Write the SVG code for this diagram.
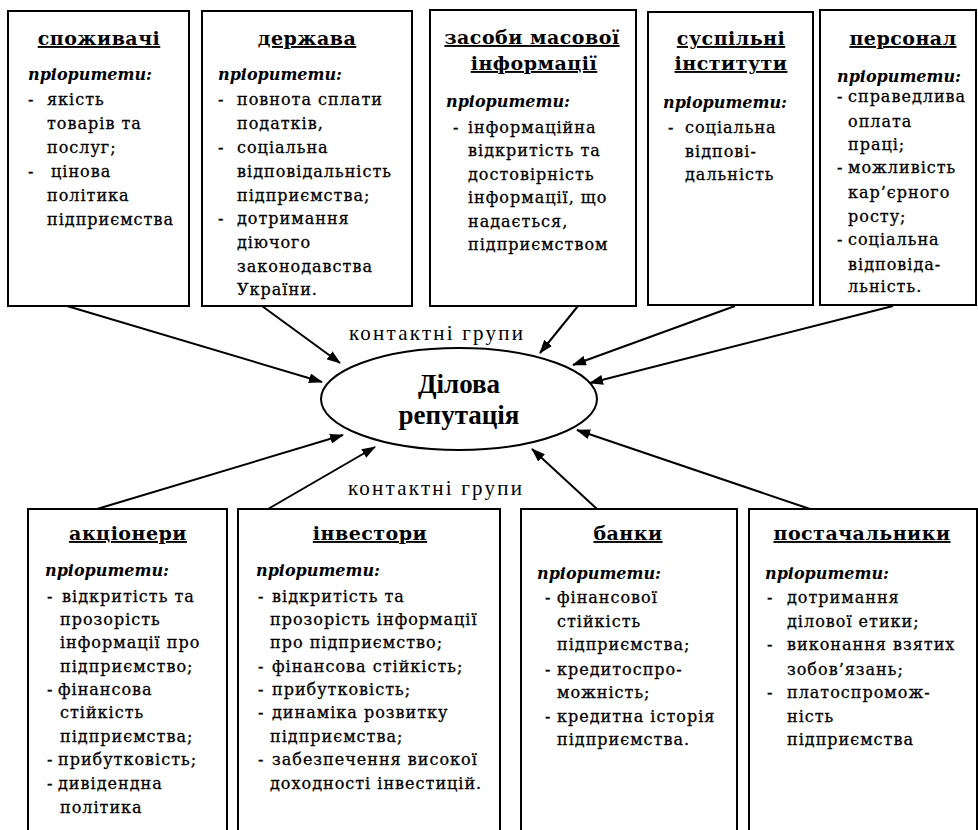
<svg xmlns="http://www.w3.org/2000/svg" width="978" height="830" viewBox="0 0 978 830">
<defs>
<style>
.box{fill:#fff;stroke:#000;stroke-width:2}
.t{font-family:"DejaVu Serif","Liberation Serif",serif;font-weight:bold;font-size:19px;letter-spacing:0.5px;text-anchor:middle;text-decoration:underline}
.p{font-family:"DejaVu Serif","Liberation Serif",serif;font-weight:bold;font-style:italic;font-size:16px}
.b{font-family:"DejaVu Serif","Liberation Serif",serif;font-size:16px;letter-spacing:1px;stroke:#000;stroke-width:0.3}
.k{font-family:"Liberation Serif","Times New Roman",serif;font-size:21px}
.e{font-family:"Liberation Serif","Times New Roman",serif;font-weight:bold;font-size:27px;text-anchor:middle}
.c line{stroke:#000;stroke-width:2;marker-end:url(#ah)}
</style>
<marker id="ah" markerUnits="userSpaceOnUse" markerWidth="14" markerHeight="10" refX="13" refY="5" orient="auto">
<path d="M0,0 L14,5 L0,10 z" fill="#000"/>
</marker>
</defs>
<rect width="978" height="830" fill="#fff"/>

<g id="connectors" class="c">
<line x1="67" y1="306" x2="322" y2="382"/>
<line x1="262" y1="306" x2="340" y2="363"/>
<line x1="578" y1="306" x2="540" y2="353"/>
<line x1="735" y1="306" x2="573" y2="365"/>
<line x1="893" y1="306" x2="590" y2="383"/>
<line x1="97" y1="509" x2="343" y2="435"/>
<line x1="268" y1="509" x2="375" y2="447"/>
<line x1="597" y1="509" x2="532" y2="449"/>
<line x1="810" y1="509" x2="577" y2="430"/>
</g>

<g id="labels">
<text class="k" x="349" y="340" textLength="174" lengthAdjust="spacing">контактні групи</text>
<text class="k" x="348" y="495" textLength="174" lengthAdjust="spacing">контактні групи</text>
</g>

<g id="center">
<ellipse cx="459" cy="399" rx="138" ry="51" fill="#fff" stroke="#000" stroke-width="2"/>
<text class="e" x="459" y="393">Ділова</text>
<text class="e" x="459" y="424">репутація</text>
</g>

<g id="spozhyvachi">
<rect class="box" x="8" y="11" width="181" height="295"/>
<text class="t" x="99" y="45">споживачі</text>
<text class="p" x="28" y="80">пріоритети:</text>
<text class="b" x="28" y="105">-</text><text class="b" x="47" y="105">якість</text>
<text class="b" x="47" y="129">товарів  та</text>
<text class="b" x="47" y="153">послуг;</text>
<text class="b" x="28" y="177">-</text><text class="b" x="51" y="177">цінова</text>
<text class="b" x="47" y="201">політика</text>
<text class="b" x="47" y="225">підприємства</text>
</g>

<g id="derzhava">
<rect class="box" x="202" y="11" width="210" height="295"/>
<text class="t" x="307" y="45">держава</text>
<text class="p" x="218" y="80">пріоритети:</text>
<text class="b" x="218" y="105">-</text><text class="b" x="237" y="105">повнота сплати</text>
<text class="b" x="237" y="129">податків,</text>
<text class="b" x="218" y="153">-</text><text class="b" x="237" y="153">соціальна</text>
<text class="b" x="237" y="177">відповідальність</text>
<text class="b" x="237" y="201">підприємства;</text>
<text class="b" x="218" y="224">-</text><text class="b" x="237" y="224">дотримання</text>
<text class="b" x="237" y="248">діючого</text>
<text class="b" x="237" y="272">законодавства</text>
<text class="b" x="237" y="295">України.</text>
</g>

<g id="zmi">
<rect class="box" x="430" y="10" width="206" height="296"/>
<text class="t" x="532" y="44">засоби масової</text>
<text class="t" x="534" y="70">інформації</text>
<text class="p" x="446" y="107">пріоритети:</text>
<text class="b" x="453" y="133">-</text><text class="b" x="468" y="133">інформаційна</text>
<text class="b" x="468" y="156">відкритість  та</text>
<text class="b" x="468" y="180">достовірність</text>
<text class="b" x="468" y="203">інформації, що</text>
<text class="b" x="468" y="227">надається,</text>
<text class="b" x="468" y="250">підприємством</text>
</g>

<g id="suspilni">
<rect class="box" x="648" y="12" width="165" height="293"/>
<text class="t" x="731" y="45">суспільні</text>
<text class="t" x="731" y="70">інститути</text>
<text class="p" x="663" y="108">пріоритети:</text>
<text class="b" x="668" y="133">-</text><text class="b" x="685" y="133">соціальна</text>
<text class="b" x="685" y="157">відпові-</text>
<text class="b" x="685" y="180">дальність</text>
</g>

<g id="personal">
<rect class="box" x="820" y="10" width="156" height="295"/>
<text class="t" x="903" y="45">персонал</text>
<text class="p" x="837" y="82">пріоритети:</text>
<text class="b" x="837" y="102">-</text><text class="b" x="848" y="102">справедлива</text>
<text class="b" x="848" y="127">оплата</text>
<text class="b" x="848" y="150">праці;</text>
<text class="b" x="837" y="173">-</text><text class="b" x="848" y="173">можливість</text>
<text class="b" x="848" y="198">кар’єрного</text>
<text class="b" x="848" y="222">росту;</text>
<text class="b" x="837" y="245">-</text><text class="b" x="848" y="245">соціальна</text>
<text class="b" x="848" y="270">відповіда-</text>
<text class="b" x="848" y="292">льність.</text>
</g>

<g id="aktsionery">
<rect class="box" x="28" y="509" width="199" height="330"/>
<text class="t" x="128" y="540">акціонери</text>
<text class="p" x="45" y="576">пріоритети:</text>
<text class="b" x="47" y="602">-</text><text class="b" x="62" y="602">відкритість  та</text>
<text class="b" x="60" y="625">прозорість</text>
<text class="b" x="60" y="648">інформації про</text>
<text class="b" x="60" y="672">підприємство;</text>
<text class="b" x="47" y="695">-</text><text class="b" x="58" y="695">фінансова</text>
<text class="b" x="60" y="718">стійкість</text>
<text class="b" x="60" y="742">підприємства;</text>
<text class="b" x="47" y="765">-</text><text class="b" x="58" y="765">прибутковість;</text>
<text class="b" x="47" y="789">-</text><text class="b" x="58" y="789">дивідендна</text>
<text class="b" x="60" y="813">політика</text>
</g>

<g id="investory">
<rect class="box" x="238" y="509" width="262" height="330"/>
<text class="t" x="370" y="540">інвестори</text>
<text class="p" x="256" y="576">пріоритети:</text>
<text class="b" x="258" y="602">-</text><text class="b" x="272" y="602">відкритість  та</text>
<text class="b" x="270" y="625">прозорість інформації</text>
<text class="b" x="270" y="648">про підприємство;</text>
<text class="b" x="258" y="672">-</text><text class="b" x="272" y="672">фінансова стійкість;</text>
<text class="b" x="258" y="695">-</text><text class="b" x="272" y="695">прибутковість;</text>
<text class="b" x="258" y="718">-</text><text class="b" x="272" y="718">динаміка розвитку</text>
<text class="b" x="270" y="742">підприємства;</text>
<text class="b" x="258" y="765">-</text><text class="b" x="272" y="765">забезпечення високої</text>
<text class="b" x="270" y="789">доходності інвестицій.</text>
</g>

<g id="banky">
<rect class="box" x="521" y="509" width="216" height="330"/>
<text class="t" x="628" y="540">банки</text>
<text class="p" x="537" y="579">пріоритети:</text>
<text class="b" x="545" y="603">-</text><text class="b" x="557" y="603">фінансової</text>
<text class="b" x="557" y="627">стійкість</text>
<text class="b" x="557" y="650">підприємства;</text>
<text class="b" x="545" y="675">-</text><text class="b" x="557" y="675">кредитоспро-</text>
<text class="b" x="557" y="698">можність;</text>
<text class="b" x="545" y="722">-</text><text class="b" x="557" y="722">кредитна історія</text>
<text class="b" x="557" y="745">підприємства.</text>
</g>

<g id="postachalnyky">
<rect class="box" x="749" y="509" width="228" height="330"/>
<text class="t" x="862" y="540">постачальники</text>
<text class="p" x="765" y="579">пріоритети:</text>
<text class="b" x="767" y="603">-</text><text class="b" x="787" y="603">дотримання</text>
<text class="b" x="787" y="627">ділової етики;</text>
<text class="b" x="767" y="650">-</text><text class="b" x="787" y="650">виконання взятих</text>
<text class="b" x="787" y="675">зобов’язань;</text>
<text class="b" x="767" y="698">-</text><text class="b" x="787" y="698">платоспромож-</text>
<text class="b" x="787" y="722">ність</text>
<text class="b" x="787" y="745">підприємства</text>
</g>
</svg>
